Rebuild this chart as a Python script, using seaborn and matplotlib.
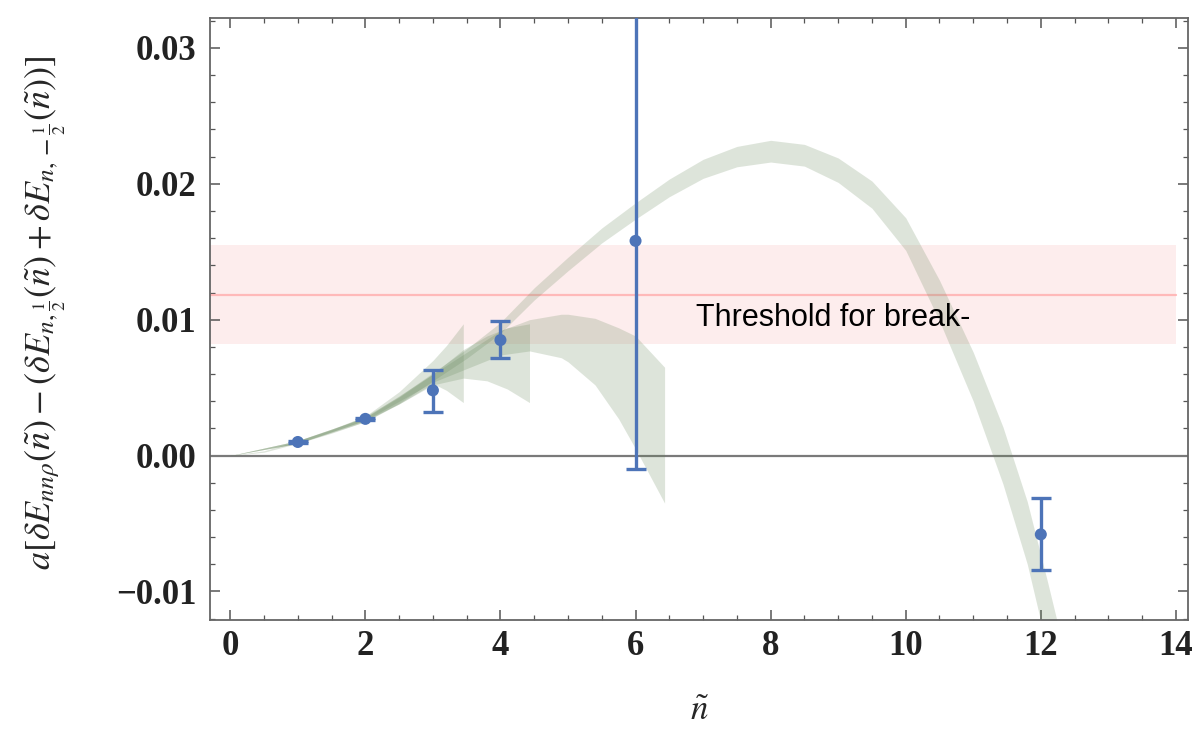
import numpy as np
import matplotlib
matplotlib.use("Agg")
import matplotlib.pyplot as plt
from matplotlib.ticker import MultipleLocator, FuncFormatter
import seaborn as sns

sns.set_style("ticks")
plt.rcParams["mathtext.fontset"] = "stix"

# lattice points with error bars
n_pts = [1, 2, 3, 4, 6, 12]
e_pts = [0.0010, 0.0027, 0.0048, 0.0085, 0.0158, -0.0058]
e_lo = [0.0009, 0.0026, 0.0032, 0.0072, -0.0010, -0.0084]
e_hi = [0.0011, 0.0028, 0.0063, 0.0099, 0.0360, -0.0031]

# main (long) fit band: centre and half width
main_x = [0, 0.5, 1, 1.5, 2, 2.5, 3, 3.5, 4, 4.5, 5, 5.5, 6, 6.5, 7, 7.5,
          8, 8.5, 9, 9.5, 10, 10.5, 11, 11.44, 11.8, 12.1, 12.3]
main_c = [0, 0.0003, 0.0010, 0.0018, 0.0027, 0.0041, 0.0058, 0.0075, 0.0094,
          0.0119, 0.0141, 0.0162, 0.0180, 0.0197, 0.0211, 0.0220, 0.0224,
          0.0221, 0.0210, 0.0192, 0.0163, 0.0114, 0.0058, 0.0, -0.0057,
          -0.0118, -0.0160]
main_w = [0, 0.00005, 0.0001, 0.00015, 0.0002, 0.00025, 0.0003, 0.00035,
          0.0004, 0.00045, 0.0005, 0.00055, 0.0006, 0.00065, 0.0007, 0.00075,
          0.0008, 0.0008, 0.0009, 0.001, 0.0012, 0.0015, 0.0018, 0.0021,
          0.0023, 0.0025, 0.0026]

# truncated bands
b1_x = [0, 1, 1.5, 2, 2.5, 3, 3.2, 3.45]
b1_lo = [0, 0.0009, 0.0017, 0.0025, 0.0038, 0.0053, 0.0048, 0.0039]
b1_hi = [0, 0.0011, 0.0019, 0.0029, 0.0047, 0.0070, 0.0081, 0.0097]

b2_x = [0, 1, 2, 2.5, 3, 3.45, 3.8, 4.1, 4.43]
b2_lo = [0, 0.0009, 0.0026, 0.0038, 0.0052, 0.0057, 0.0055, 0.0049, 0.0039]
b2_hi = [0, 0.0011, 0.0028, 0.0043, 0.0060, 0.0078, 0.0088, 0.0094, 0.0097]

b3_x = [0, 1, 2, 3, 3.5, 4, 4.43, 4.9, 5.0, 5.4, 5.75, 6.0, 6.43]
b3_lo = [0, 0.0009, 0.0026, 0.0054, 0.0064, 0.0074, 0.0077, 0.0072, 0.0069,
         0.0052, 0.0027, 0.0005, -0.0035]
b3_hi = [0, 0.0011, 0.0028, 0.0060, 0.0076, 0.0092, 0.0100, 0.0104, 0.0104,
         0.0101, 0.0094, 0.0088, 0.0065]

# threshold band
thr_x = [-0.3, 14.0]
thr_c = 0.0118
thr_lo = 0.0082
thr_hi = 0.0155

blue = "#4d74b8"
green = "#66875a"

fig = plt.figure(figsize=(11.98, 7.38), dpi=100)
ax = fig.add_axes([0.1753, 0.1599, 0.8164, 0.8157])

ax.fill_between(thr_x, thr_lo, thr_hi, color="#fdeded", lw=0, zorder=0)
ax.plot(thr_x, [thr_c, thr_c], color="#ffb9b9", lw=1.6, zorder=1)
ax.axhline(0, color="#7a7a7a", lw=1.6, zorder=1)

mc = np.array(main_c)
mw = np.array(main_w)
ax.fill_between(main_x, mc - mw, mc + mw, color=green, alpha=0.22, lw=0, zorder=2)
for bx, blo, bhi in [(b1_x, b1_lo, b1_hi), (b2_x, b2_lo, b2_hi), (b3_x, b3_lo, b3_hi)]:
    ax.fill_between(bx, blo, bhi, color=green, alpha=0.22, lw=0, zorder=2)

yerr = [np.array(e_pts) - np.array(e_lo), np.array(e_hi) - np.array(e_pts)]
ax.errorbar(n_pts, e_pts, yerr=yerr, fmt="none", ecolor=blue, elinewidth=2.4,
            capsize=7, capthick=2.4, zorder=3)
sns.scatterplot(x=n_pts, y=e_pts, color=blue, s=75, edgecolor="none", ax=ax, zorder=4)

ax.text(6.9, 0.0101, "Threshold for break-", fontsize=22, ha="left", va="center",
        family="Liberation Sans", color="black", zorder=5)

ax.set_xlim(-0.3, 14.18)
ax.set_ylim(-0.0121, 0.0322)
ax.xaxis.set_major_locator(MultipleLocator(2))
ax.xaxis.set_minor_locator(MultipleLocator(0.5))
ax.yaxis.set_major_locator(MultipleLocator(0.01))
ax.yaxis.set_minor_locator(MultipleLocator(0.002))
ax.yaxis.set_major_formatter(FuncFormatter(lambda v, p: f"{v:.2f}".replace("-", "\u2212")))
ax.xaxis.set_major_formatter(FuncFormatter(lambda v, p: f"{v:.0f}"))

ax.tick_params(which="both", direction="in", top=True, right=True, color="#555555")
ax.tick_params(which="major", length=7, width=1.1, labelsize=25)
ax.tick_params(axis="x", which="major", pad=7)
ax.tick_params(axis="y", which="major", pad=10)
ax.tick_params(which="minor", length=3.5, width=0.9)
for lab in ax.get_xticklabels() + ax.get_yticklabels():
    lab.set_family("Liberation Serif")
    lab.set_fontweight("bold")
    lab.set_color("#222222")
for sp in ax.spines.values():
    sp.set_color("#666666")
    sp.set_linewidth(1.3)

ax.set_xlabel(r"$\tilde{n}$", fontsize=25, labelpad=22)
ax.set_ylabel(r"$a[\delta E_{nn\rho}(\tilde{n}) - (\delta E_{n,\frac{1}{2}}(\tilde{n})"
              r" + \delta E_{n,-\frac{1}{2}}(\tilde{n}))]$", fontsize=26)
ax.yaxis.set_label_coords(-0.145, 0.51)

fig.savefig("out.png", dpi=100)
